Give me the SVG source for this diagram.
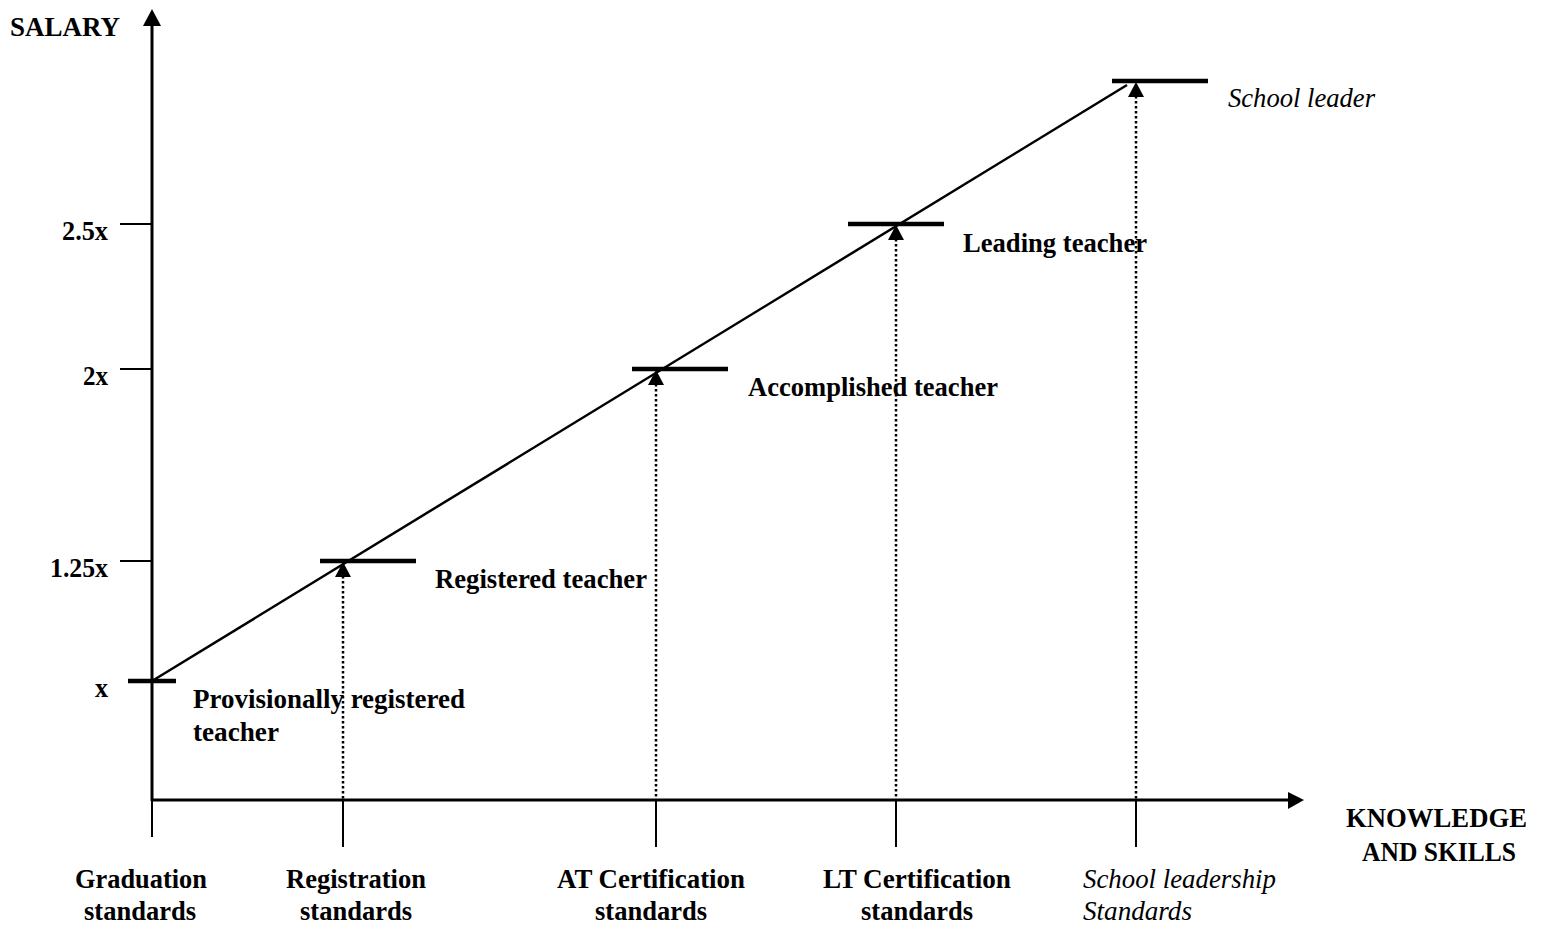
<svg xmlns="http://www.w3.org/2000/svg" width="1542" height="929" viewBox="0 0 1542 929">
<style>
text{font-family:"Liberation Serif","Times New Roman",serif;font-size:28px;fill:#000}
.b{font-weight:bold}
.i{font-style:italic}
.ax{stroke:#000;stroke-width:3;fill:none}
.tk{stroke:#000;stroke-width:2;fill:none}
.dg{stroke:#000;stroke-width:2.5;fill:none}
.bar{stroke:#000;stroke-width:4.5;fill:none}
.dot{stroke:#000;stroke-width:2.5;stroke-dasharray:2.5 2.5;fill:none}
.ah{fill:#000;stroke:none}
</style>
<rect width="1542" height="929" fill="#fff"/>
<g id="axes">
<line class="ax" x1="152" y1="801" x2="152" y2="24"/>
<polygon class="ah" points="152,9 143,26 161,26"/>
<line class="ax" x1="151" y1="800" x2="1290" y2="800"/>
<polygon class="ah" points="1304,800 1288,792 1288,809"/>
<line class="tk" x1="120" y1="224" x2="152" y2="224"/>
<line class="tk" x1="120" y1="369" x2="152" y2="369"/>
<line class="tk" x1="120" y1="561" x2="152" y2="561"/>
<line class="tk" x1="152" y1="800" x2="152" y2="837"/>
<line class="tk" x1="343" y1="800" x2="343" y2="847"/>
<line class="tk" x1="656" y1="800" x2="656" y2="847"/>
<line class="tk" x1="896" y1="800" x2="896" y2="847"/>
<line class="tk" x1="1136" y1="800" x2="1136" y2="847"/>
<text class="b" x="10" y="36" textLength="110" lengthAdjust="spacingAndGlyphs">SALARY</text>
<text class="b" x="62" y="240" textLength="46" lengthAdjust="spacingAndGlyphs">2.5x</text>
<text class="b" x="83" y="385" textLength="25" lengthAdjust="spacingAndGlyphs">2x</text>
<text class="b" x="50" y="577" textLength="58" lengthAdjust="spacingAndGlyphs">1.25x</text>
<text class="b" x="95" y="697" textLength="13" lengthAdjust="spacingAndGlyphs">x</text>
<text class="b" x="1346" y="827" textLength="181" lengthAdjust="spacingAndGlyphs">KNOWLEDGE</text>
<text class="b" x="1362" y="861" textLength="154" lengthAdjust="spacingAndGlyphs">AND SKILLS</text>
</g>
<g id="connectors">
<line class="dg" x1="152" y1="681" x2="1127" y2="85"/>
<line class="dot" x1="343" y1="576" x2="343" y2="800"/>
<line class="dot" x1="656" y1="384" x2="656" y2="800"/>
<line class="dot" x1="896" y1="239" x2="896" y2="800"/>
<line class="dot" x1="1136" y1="96" x2="1136" y2="800"/>
<polygon class="ah" points="343,562 335,577 351,577"/>
<polygon class="ah" points="656,370 648,385 664,385"/>
<polygon class="ah" points="896,225 888,240 904,240"/>
<polygon class="ah" points="1136,82 1128,97 1144,97"/>
</g>
<g id="provisional">
<line class="bar" x1="128" y1="681" x2="176" y2="681"/>
<text class="b" x="193" y="708" textLength="272" lengthAdjust="spacingAndGlyphs">Provisionally registered</text>
<text class="b" x="193" y="741" textLength="86" lengthAdjust="spacingAndGlyphs">teacher</text>
</g>
<g id="registered">
<line class="bar" x1="320" y1="561" x2="416" y2="561"/>
<text class="b" x="435" y="588" textLength="212" lengthAdjust="spacingAndGlyphs">Registered teacher</text>
</g>
<g id="accomplished">
<line class="bar" x1="632" y1="369" x2="728" y2="369"/>
<text class="b" x="748" y="396" textLength="250" lengthAdjust="spacingAndGlyphs">Accomplished teacher</text>
</g>
<g id="leading">
<line class="bar" x1="848" y1="224" x2="944" y2="224"/>
<text class="b" x="963" y="252" textLength="184" lengthAdjust="spacingAndGlyphs">Leading teacher</text>
</g>
<g id="schoolleader">
<line class="bar" x1="1112" y1="81" x2="1208" y2="81"/>
<text class="i" x="1228" y="107" textLength="147" lengthAdjust="spacingAndGlyphs">School leader</text>
</g>
<g id="graduation">
<text class="b" x="75" y="888" textLength="132" lengthAdjust="spacingAndGlyphs">Graduation</text>
<text class="b" x="84" y="920" textLength="112" lengthAdjust="spacingAndGlyphs">standards</text>
</g>
<g id="registration">
<text class="b" x="286" y="888" textLength="140" lengthAdjust="spacingAndGlyphs">Registration</text>
<text class="b" x="300" y="920" textLength="112" lengthAdjust="spacingAndGlyphs">standards</text>
</g>
<g id="atcert">
<text class="b" x="557" y="888" textLength="188" lengthAdjust="spacingAndGlyphs">AT Certification</text>
<text class="b" x="595" y="920" textLength="112" lengthAdjust="spacingAndGlyphs">standards</text>
</g>
<g id="ltcert">
<text class="b" x="823" y="888" textLength="188" lengthAdjust="spacingAndGlyphs">LT Certification</text>
<text class="b" x="861" y="920" textLength="112" lengthAdjust="spacingAndGlyphs">standards</text>
</g>
<g id="leadershipstd">
<text class="i" x="1083" y="888" textLength="193" lengthAdjust="spacingAndGlyphs">School leadership</text>
<text class="i" x="1083" y="920" textLength="109" lengthAdjust="spacingAndGlyphs">Standards</text>
</g>
</svg>
